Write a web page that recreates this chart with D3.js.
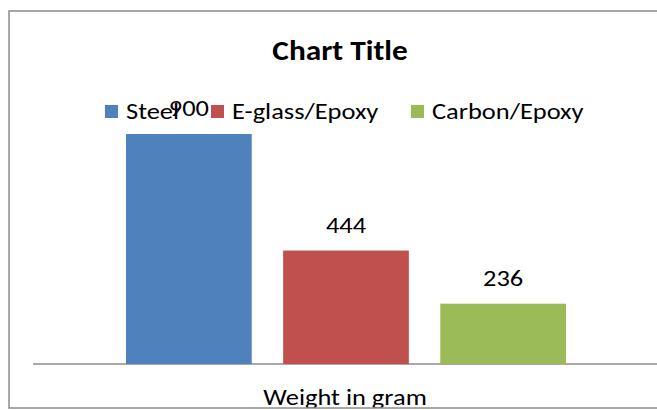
<!DOCTYPE html>
<html>
<head>
<meta charset="utf-8">
<script src="https://cdn.jsdelivr.net/npm/d3@7"></script>
<style>
  body { margin: 0; background: #fff; }
  text { font-family: Carlito, "Open Sans", "Liberation Sans", sans-serif; fill: #000; }
</style>
</head>
<body>
<div id="chart"></div>
<script>
const series = ["Steel", "E-glass/Epoxy", "Carbon/Epoxy"];
const values = [900, 444, 236];
const colors = ["#4f81bd", "#c0504d", "#9bbb59"];
const category = "Weight in gram";

const width = 657, height = 410;
const stretch = 1.15; // text in the picture is a bit wider than plain Calibri

const svg = d3.select("#chart").append("svg")
    .attr("width", width)
    .attr("height", height);

// everything inside the frame gets cut at its bottom edge
svg.append("clipPath").attr("id", "frameClip")
    .append("rect")
    .attr("x", 0).attr("y", 0)
    .attr("width", width).attr("height", 408);

const g = svg.append("g").attr("clip-path", "url(#frameClip)");

svg.append("text")
    .attr("transform", "translate(340,60) scale(1.08,1)")
    .attr("text-anchor", "middle")
    .attr("font-size", 29)
    .attr("font-weight", "bold")
    .text("Chart Title");

const y = d3.scaleLinear().domain([0, 900]).range([364, 134]);
const x = d3.scaleBand().domain(series).range([126, 566]).paddingInner(0.2);

// baseline
svg.append("line")
    .attr("x1", 33).attr("x2", width)
    .attr("y1", y(0)).attr("y2", y(0))
    .attr("stroke", "#8c8c8c").attr("stroke-width", 1.5);

svg.selectAll(".bar")
    .data(values)
    .enter()
    .append("rect")
    .attr("class", "bar")
    .attr("x", (d, i) => x(series[i]))
    .attr("y", d => y(d))
    .attr("width", x.bandwidth())
    .attr("height", d => y(0) - y(d))
    .attr("fill", (d, i) => colors[i]);

g.append("text")
    .attr("transform", `translate(345,405) scale(${stretch},1)`)
    .attr("text-anchor", "middle")
    .attr("font-size", 23)
    .text(category);

// legend
const legendX = [105, 211, 411];
const legend = svg.selectAll(".leg")
    .data(series)
    .enter()
    .append("g")
    .attr("class", "leg")
    .attr("transform", (d, i) => `translate(${legendX[i]}, 105)`);

legend.append("rect")
    .attr("width", 13).attr("height", 13)
    .attr("fill", (d, i) => colors[i]);

legend.append("text")
    .attr("transform", `translate(21,14) scale(${stretch},1)`)
    .attr("font-size", 23)
    .text(d => d);

// value labels drawn last, over the legend
svg.selectAll(".val")
    .data(values)
    .enter()
    .append("text")
    .attr("class", "val")
    .attr("transform", (d, i) =>
        `translate(${x(series[i]) + x.bandwidth() / 2},${y(d) - 18}) scale(${stretch},1)`)
    .attr("text-anchor", "middle")
    .attr("font-size", 23)
    .text(d => d);

// chart frame, runs past the right edge
svg.append("rect")
    .attr("x", 9).attr("y", 11)
    .attr("width", 700).attr("height", 397)
    .attr("fill", "none")
    .attr("stroke", "#8c8c8c")
    .attr("stroke-width", 1.5);
</script>
</body>
</html>
